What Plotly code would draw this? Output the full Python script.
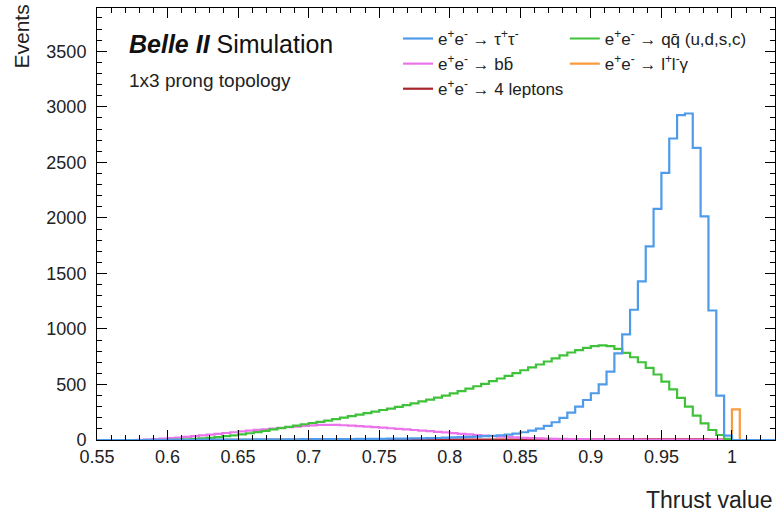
import numpy as np
import plotly.graph_objects as go

# ---- data -------------------------------------------------------------
# thrust histogram: 90 bins between 0.55 and 1.05 (bin width 1/180)
bin_edges = np.linspace(0.55, 1.05, 91)

tautau = [0, 0, 0, 0, 0, 0, 1, 1, 1, 2,
          2, 2, 2, 3, 3, 3, 3, 4, 4, 4,
          5, 5, 5, 6, 6, 6, 7, 7, 7, 8,
          8, 9, 9, 10, 10, 11, 11, 12, 12, 13,
          14, 15, 16, 18, 21, 23, 25, 28, 31, 34,
          37, 42, 48, 58, 70, 85, 103, 128, 160, 200,
          246, 300, 360, 421, 500, 615, 780, 952, 1173, 1428,
          1744, 2081, 2406, 2715, 2925, 2940, 2631, 2014, 1166, 400,
          40, 0, 0, 0, 0, 0, 0, 0, 0, 0]

qqbar = [0, 0, 0, 0, 0, 0, 0, 0, 0, 2,
         4, 6, 10, 15, 20, 27, 34, 42, 51, 61,
         71, 83, 95, 107, 118, 130, 142, 153, 163, 175,
         188, 202, 215, 228, 242, 256, 270, 283, 298, 314,
         330, 347, 364, 382, 400, 420, 440, 462, 484, 506,
         530, 554, 578, 603, 628, 654, 680, 707, 735, 762,
         788, 810, 830, 845, 852, 845, 820, 785, 745, 700,
         650, 590, 525, 455, 380, 300, 220, 150, 90, 45,
         10, 0, 0, 0, 0, 0, 0, 0, 0, 0]

bbbar = [0, 0, 0, 0, 0, 2, 4, 7, 12, 17,
         22, 28, 34, 41, 49, 56, 63, 70, 77, 84,
         91, 97, 103, 109, 115, 121, 127, 132, 136, 137,
         136, 133, 129, 125, 121, 116, 111, 106, 100, 95,
         90, 85, 80, 74, 68, 62, 56, 50, 44, 39,
         34, 30, 26, 23, 20, 17, 15, 13, 11, 10,
         9, 8, 7, 6, 5, 4, 4, 3, 3, 2,
         2, 2, 1, 1, 1, 1, 1, 1, 1, 1,
         1, 0, 0, 0, 0, 0, 0, 0, 0, 0]

llgamma = [0] * 81 + [275] + [0] * 8

four_leptons = [0, 0, 0, 0, 0, 0, 0, 0, 0, 0,
                0, 0, 1, 1, 1, 1, 1, 1, 1, 1,
                1, 1, 1, 1, 2, 2, 2, 2, 2, 2,
                2, 2, 2, 2, 2, 3, 3, 3, 3, 3,
                3, 3, 3, 3, 3, 4, 4, 4, 4, 4,
                4, 4, 4, 4, 4, 5, 5, 5, 5, 5,
                5, 5, 5, 5, 5, 5, 5, 5, 5, 5,
                5, 5, 5, 5, 5, 5, 5, 5, 4, 3,
                2, 0, 0, 0, 0, 0, 0, 0, 0, 0]

x_tick_vals = [0.55, 0.6, 0.65, 0.7, 0.75, 0.8, 0.85, 0.9, 0.95, 1.0]
x_tick_text = ["0.55", "0.6", "0.65", "0.7", "0.75", "0.8", "0.85", "0.9", "0.95", "1"]
y_tick_vals = [0, 500, 1000, 1500, 2000, 2500, 3000, 3500]
y_tick_text = ["0", "500", "1000", "1500", "2000", "2500", "3000", "3500"]

# ---- styling ----------------------------------------------------------
FONT = "Liberation Sans, Arial, Helvetica, sans-serif"
C_TAU = "#4f9be9"
C_QQ = "#3fc23a"
C_BB = "#ec74ea"
C_LLG = "#f99a3c"
C_4L = "#a8242c"


def step(values):
    v = list(values)
    return list(bin_edges), v + [v[-1]]


series = [
    # name, values, colour, legend, rank
    ("e<sup>+</sup>e<sup>-</sup> → l<sup>+</sup>l<sup>-</sup>γ", llgamma, C_LLG, "legend2", 2),
    ("e<sup>+</sup>e<sup>-</sup> → 4 leptons", four_leptons, C_4L, "legend", 3),
    ("e<sup>+</sup>e<sup>-</sup> → bb̄", bbbar, C_BB, "legend", 2),
    ("e<sup>+</sup>e<sup>-</sup> → qq̄ (u,d,s,c)", qqbar, C_QQ, "legend2", 1),
    ("e<sup>+</sup>e<sup>-</sup> → τ<sup>+</sup>τ<sup>-</sup>", tautau, C_TAU, "legend", 1),
]

fig = go.Figure()
for i, (name, vals, col, leg, rank) in enumerate(series):
    xs, ys = step(vals)
    fig.add_trace(go.Scatter(
        x=xs, y=ys, mode="lines", name=name,
        line=dict(color=col, width=2.2, shape="hv"),
        legend=leg, legendrank=rank, legendgroup=f"g{i}",
        hoverinfo="skip",
    ))

axis_common = dict(
    showline=True, linecolor="black", linewidth=1, mirror="allticks",
    ticks="inside", ticklen=10, tickwidth=1, tickcolor="black",
    showgrid=False, zeroline=False, automargin=False,
    tickfont=dict(family=FONT, size=18, color="#222"),
)

fig.update_xaxes(
    range=[0.55, 1.0305], tickmode="array", tickvals=x_tick_vals, ticktext=x_tick_text,
    minor=dict(dtick=0.01, tick0=0.55, ticks="inside", ticklen=5, tickcolor="black"),
    **axis_common,
)
fig.update_yaxes(
    range=[0, 3890], tickmode="array", tickvals=y_tick_vals, ticktext=y_tick_text,
    minor=dict(dtick=100, tick0=0, ticks="inside", ticklen=5, tickcolor="black"),
    ticklabelstandoff=6,
    **axis_common,
)

legend_common = dict(
    font=dict(family=FONT, size=17, color="#222"),
    bgcolor="rgba(0,0,0,0)", borderwidth=0, itemwidth=30,
    orientation="v", yanchor="top", xanchor="left", tracegroupgap=0,
)

fig.update_layout(
    width=776, height=512,
    margin=dict(l=97, r=1, t=8, b=72),
    paper_bgcolor="white", plot_bgcolor="white",
    showlegend=True,
    legend=dict(x=0.444, y=0.97, **legend_common),
    legend2=dict(x=0.69, y=0.97, **legend_common),
    annotations=[
        dict(text="<b><i>Belle II</i></b> Simulation", xref="paper", yref="paper",
             x=0.044, y=0.916, xanchor="left", yanchor="middle", showarrow=False,
             font=dict(family=FONT, size=25, color="#111")),
        dict(text="1x3 prong topology", xref="paper", yref="paper",
             x=0.044, y=0.833, xanchor="left", yanchor="middle", showarrow=False,
             font=dict(family=FONT, size=19, color="#222")),
        dict(text="Events", xref="paper", yref="paper", textangle=-90,
             x=-0.111, y=1.012, xanchor="center", yanchor="top", showarrow=False,
             font=dict(family=FONT, size=21, color="#222")),
        dict(text="Thrust value", xref="paper", yref="paper",
             x=1.0, y=-0.138, xanchor="right", yanchor="middle", showarrow=False,
             font=dict(family=FONT, size=23, color="#222")),
    ],
)

fig.write_html("out.html", config={"displayModeBar": False},
               post_script="document.body.style.margin='0';")
